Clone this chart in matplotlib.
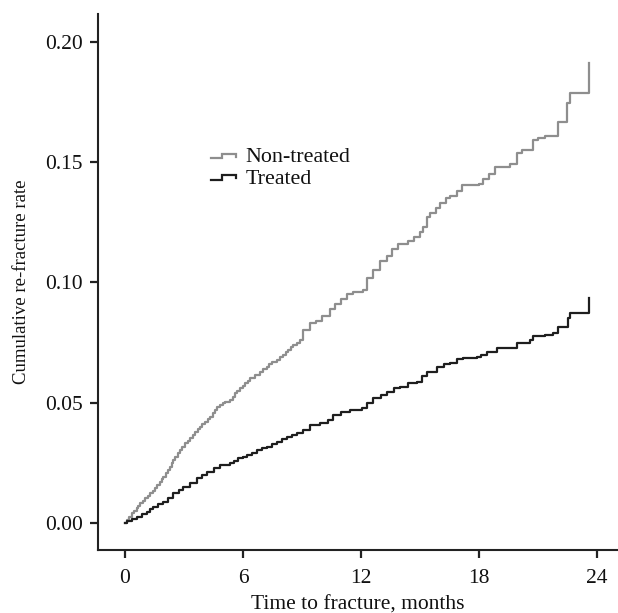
import matplotlib
matplotlib.use("Agg")
import matplotlib.pyplot as plt
from matplotlib.legend_handler import HandlerBase
from matplotlib.lines import Line2D

# ---- data ----
nontreated_t = [0, 0.085, 0.2, 0.34, 0.47, 0.59, 0.68, 0.76, 0.9, 1.02, 1.15, 1.27, 1.4,
                1.53, 1.65, 1.78, 1.87, 1.95, 2.08, 2.2, 2.28, 2.37, 2.45, 2.54, 2.67,
                2.8, 2.92, 3.05, 3.18, 3.31, 3.44, 3.56, 3.69, 3.81, 3.94, 4.07, 4.2,
                4.32, 4.45, 4.58, 4.7, 4.83, 4.96, 5.09, 5.34, 5.47, 5.59, 5.72, 5.85,
                5.98, 6.10, 6.23, 6.36, 6.61, 6.86, 7.03, 7.20, 7.33, 7.46, 7.71, 7.88,
                8.05, 8.18, 8.31, 8.44, 8.56, 8.73, 8.90, 9.07, 9.4, 9.7, 10.0, 10.4,
                10.7, 11.0, 11.27, 11.6, 12.1, 12.3, 12.6, 12.97, 13.3, 13.6, 13.9, 14.4,
                14.7, 15.0, 15.17, 15.35, 15.51, 15.8, 16.02, 16.3, 16.53, 16.9, 17.12,
                18.0, 18.22, 18.5, 18.81, 19.6, 19.92, 20.2, 20.76, 21.0, 21.36, 22.03,
                22.46, 22.63, 23.61]
nontreated_y = [0.0, 0.0012, 0.0026, 0.0040, 0.0050, 0.0061, 0.0072, 0.0082, 0.0092,
                0.0103, 0.0113, 0.0123, 0.0134, 0.0144, 0.0158, 0.0172, 0.0183, 0.0193,
                0.0207, 0.0220, 0.0234, 0.0248, 0.0262, 0.0276, 0.0290, 0.0303, 0.0317,
                0.0331, 0.0341, 0.0352, 0.0366, 0.0379, 0.0390, 0.0400, 0.0410, 0.0421,
                0.0431, 0.0442, 0.0456, 0.0470, 0.0480, 0.0490, 0.0497, 0.0504, 0.0511,
                0.0525, 0.0539, 0.0550, 0.0560, 0.0570, 0.0581, 0.0591, 0.0601, 0.0615,
                0.0629, 0.0640, 0.0650, 0.0660, 0.0670, 0.0677, 0.0688, 0.0698, 0.0709,
                0.0719, 0.0730, 0.0740, 0.0750, 0.0761, 0.0802, 0.083, 0.084, 0.086,
                0.089, 0.091, 0.093, 0.095, 0.096, 0.097, 0.102, 0.105, 0.109, 0.111,
                0.114, 0.116, 0.117, 0.119, 0.121, 0.123, 0.127, 0.129, 0.131, 0.133,
                0.135, 0.136, 0.138, 0.1405, 0.141, 0.143, 0.145, 0.148, 0.149, 0.1537,
                0.155, 0.159, 0.160, 0.161, 0.1668, 0.1744, 0.1786, 0.191]

treated_t = [0, 0.085, 0.34, 0.59, 0.85, 1.10, 1.27, 1.44, 1.7, 1.95, 2.2, 2.46, 2.72,
             2.97, 3.3, 3.65, 3.9, 4.15, 4.5, 4.83, 5.34, 5.55, 5.76, 6.0, 6.19, 6.45,
             6.70, 6.95, 7.20, 7.45, 7.71, 7.97, 8.22, 8.48, 8.73, 9.07, 9.41, 9.92,
             10.3, 10.59, 11.0, 11.44, 12.04, 12.3, 12.6, 13.0, 13.31, 13.7, 13.98, 14.4,
             14.83, 15.1, 15.34, 15.85, 16.2, 16.53, 16.9, 17.2, 17.88, 18.1, 18.39,
             18.9, 19.92, 20.3, 20.6, 20.77, 21.36, 21.78, 22.03, 22.54, 22.63, 23.61]
treated_y = [0.0, 0.0010, 0.0018, 0.0026, 0.0037, 0.0047, 0.0057, 0.0068, 0.0078, 0.0089,
             0.0106, 0.0123, 0.0137, 0.0151, 0.0168, 0.0186, 0.0200, 0.0213, 0.0227,
             0.0241, 0.0248, 0.0258, 0.0269, 0.0276, 0.0283, 0.0293, 0.0303, 0.0310,
             0.0317, 0.0328, 0.0338, 0.0349, 0.0359, 0.0366, 0.0373, 0.0387, 0.0407,
             0.0414, 0.043, 0.0449, 0.046, 0.047, 0.0477, 0.050, 0.052, 0.053, 0.0546,
             0.056, 0.0567, 0.058, 0.0587, 0.061, 0.0629, 0.065, 0.066, 0.0664, 0.068,
             0.0685, 0.0691, 0.070, 0.0712, 0.0726, 0.0747, 0.075, 0.0761, 0.0777,
             0.0781, 0.0791, 0.0816, 0.0851, 0.0874, 0.0934]

series_labels = ["Non-treated", "Treated"]
series_colors = ["#8e8e8e", "#1e1e1e"]

x_ticks = [0, 6, 12, 18, 24]
y_ticks = [0.00, 0.05, 0.10, 0.15, 0.20]
y_ticklabels = ["0.00", "0.05", "0.10", "0.15", "0.20"]

plt.rcParams["font.family"] = ["Liberation Serif", "DejaVu Serif"]

fig = plt.figure(figsize=(6.18, 6.13), dpi=100)
ax = fig.add_axes([0.1586, 0.1028, 0.8414, 0.8744])

lw = 1.6
ax.step(nontreated_t, nontreated_y, where="post", color=series_colors[0], lw=lw,
        label=series_labels[0])
ax.step(treated_t, treated_y, where="post", color=series_colors[1], lw=lw,
        label=series_labels[1])

ax.set_xlim(-1.373, 25.07)
ax.set_ylim(-0.0112, 0.2115)
ax.set_xticks(x_ticks)
ax.set_xticklabels([str(v) for v in x_ticks])
ax.set_yticks(y_ticks)
ax.set_yticklabels(y_ticklabels)

for s in ["top", "right"]:
    ax.spines[s].set_visible(False)
for s in ["left", "bottom"]:
    ax.spines[s].set_linewidth(1.5)
    ax.spines[s].set_color("#222222")

ax.tick_params(axis="both", direction="out", length=6, width=1.6, colors="#222222",
               labelsize=15.5, labelcolor="#111111")
ax.tick_params(axis="y", pad=5)
ax.tick_params(axis="x", pad=8)

ax.set_xlabel("Time to fracture, months", fontsize=15.5, color="#111111", labelpad=5)
ax.set_ylabel("Cumulative re-fracture rate", fontsize=13.5, color="#111111", labelpad=11)


class StepHandler(HandlerBase):
    def create_artists(self, legend, orig_handle, xdescent, ydescent, width, height,
                       fontsize, trans):
        y0 = height * 0.25 - ydescent
        y1 = height * 0.55 - ydescent
        x0 = -xdescent
        xm = x0 + width * 0.45
        x1 = x0 + width
        line = Line2D([x0, xm, xm, x1, x1], [y0, y0, y1, y1, y1 - height * 0.2],
                      color=orig_handle.get_color(), lw=orig_handle.get_linewidth(),
                      solid_joinstyle="miter")
        line.set_transform(trans)
        return [line]


handles = [Line2D([], [], color=c, lw=lw) for c in series_colors]
leg = ax.legend(handles, series_labels, loc="upper left", bbox_to_anchor=(0.218, 0.752),
                frameon=False, fontsize=15.8, handlelength=1.1, handletextpad=0.45,
                labelspacing=0.05, borderpad=0, borderaxespad=0,
                handler_map={Line2D: StepHandler()})
for t in leg.get_texts():
    t.set_color("#111111")

fig.savefig("out.png", dpi=100)
